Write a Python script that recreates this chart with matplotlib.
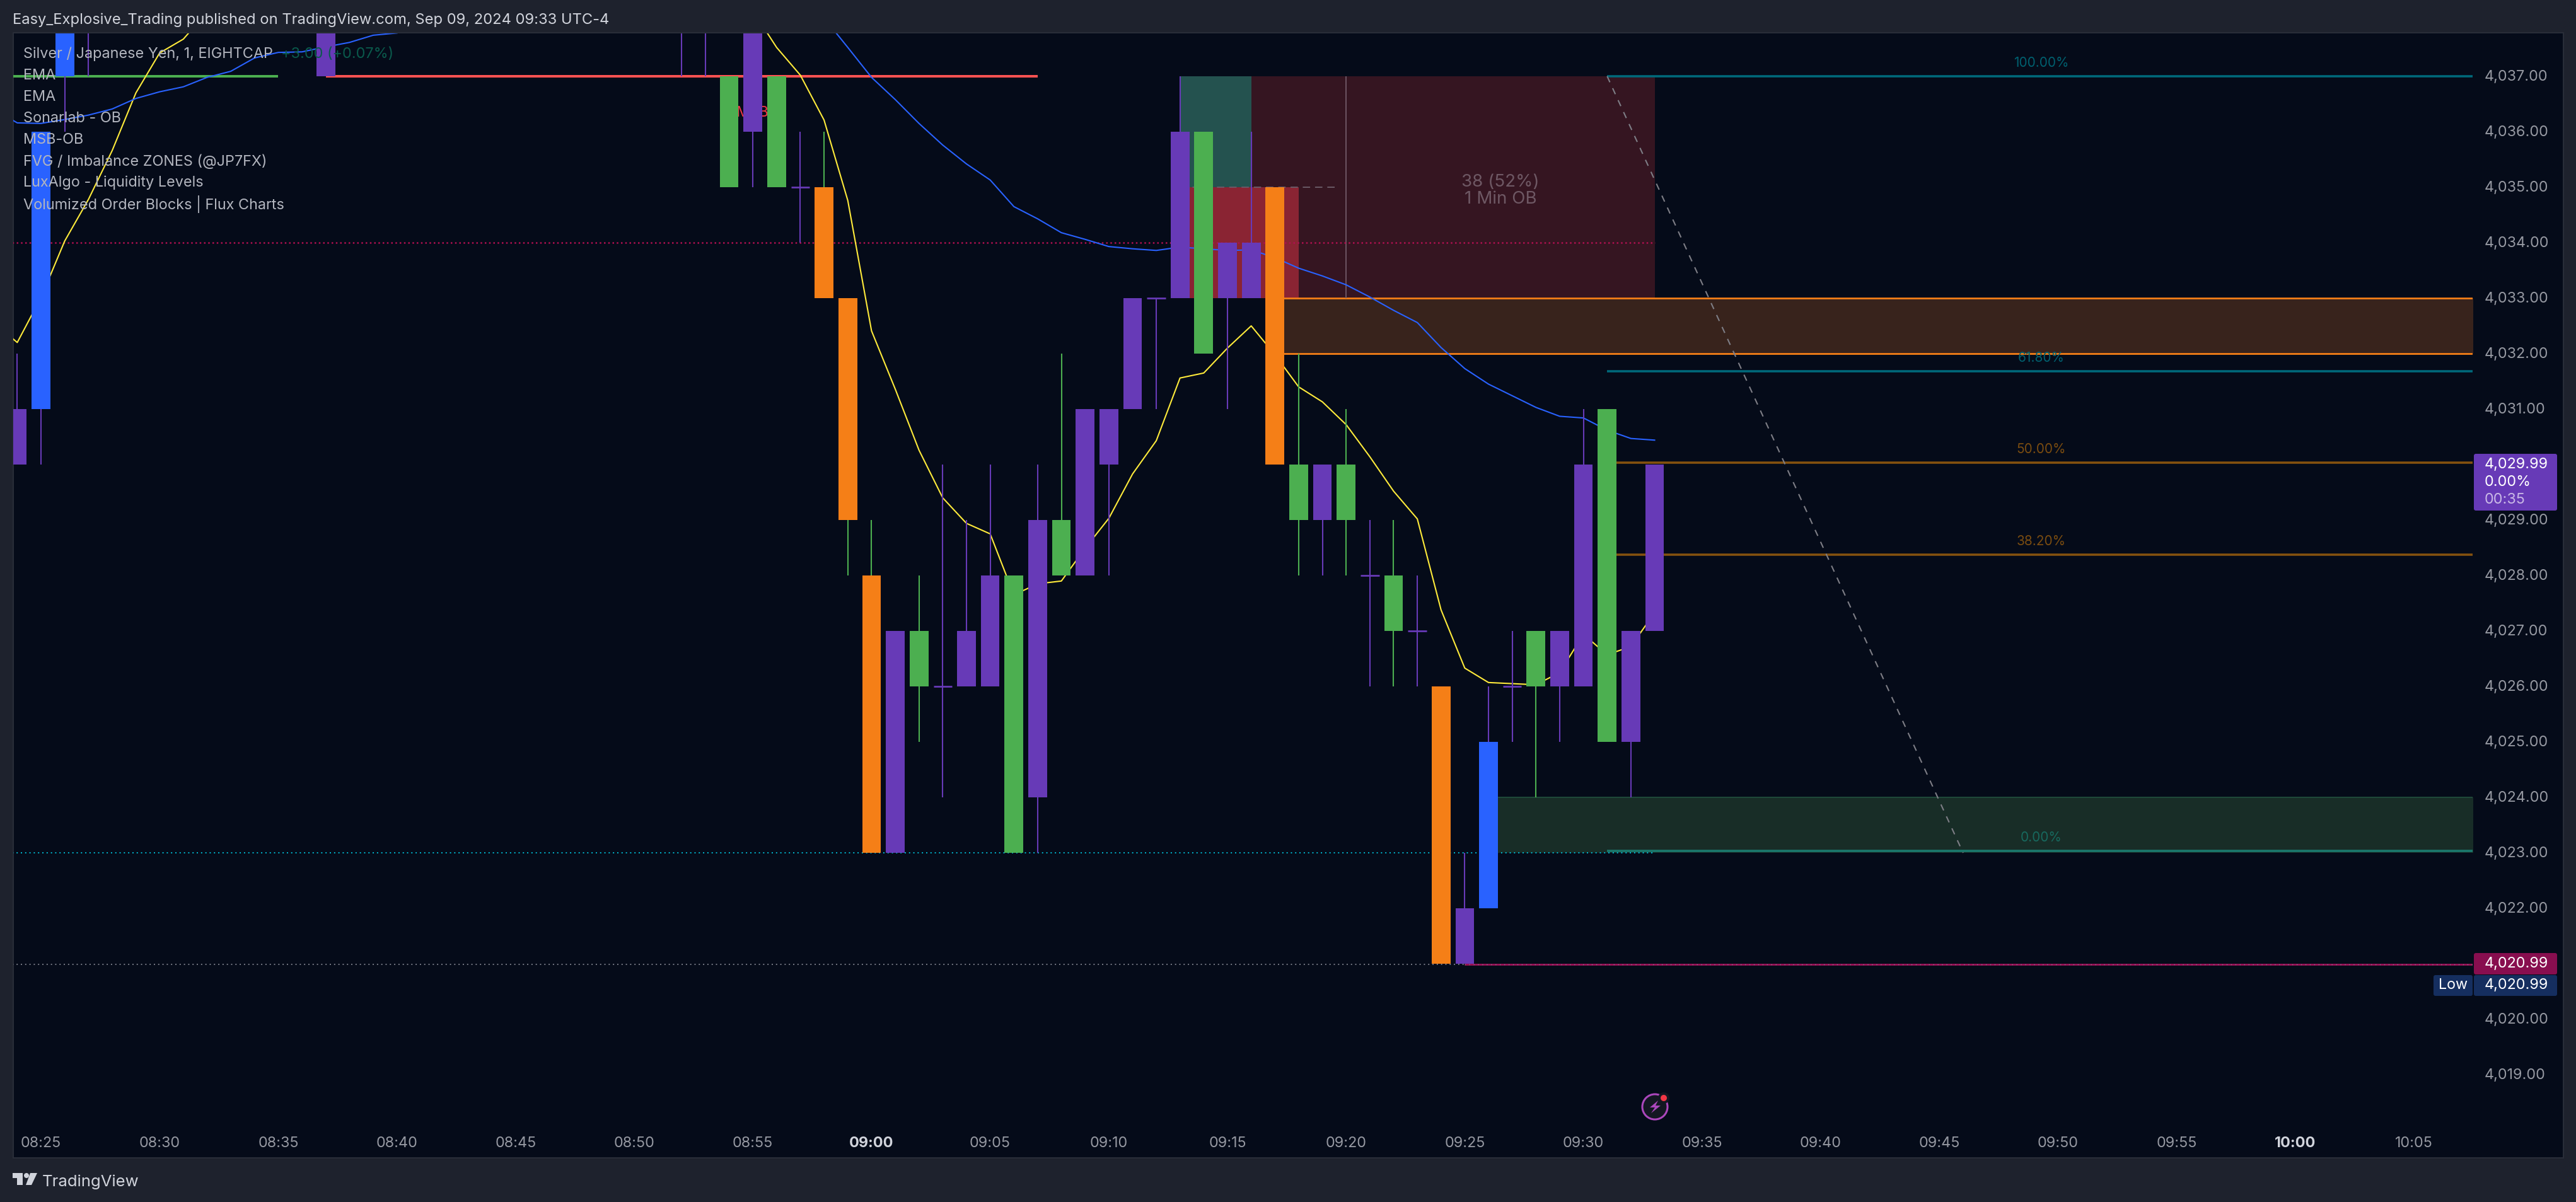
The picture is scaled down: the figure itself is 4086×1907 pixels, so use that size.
"""Silver / JPY 1 minute chart, redrawn from a TradingView snapshot."""

import matplotlib
matplotlib.use("Agg")
import matplotlib.pyplot as plt
from matplotlib.patches import Rectangle, FancyBboxPatch, Circle, Polygon

W, H = 4086, 1908
AX_L, AX_R, AX_T, AX_B = 21, 3922, 54, 1775

FRAME = "#1E222D"
BG = "#050B19"
PURPLE = "#673AB7"
GREEN = "#4CAF50"
ORANGE = "#F57F17"
BLUE = "#2962FF"
CMAP = {"p": PURPLE, "g": GREEN, "o": ORANGE, "b": BLUE}

# minutes counted from 08:25
candle_min = [-1, 0, 1, 2, 12, 27, 28, 29, 30, 31, 32, 33, 34, 35, 36, 37, 38, 39,
              40, 41, 42, 43, 44, 45, 46, 47, 48, 49, 50, 51, 52, 53, 54, 55, 56,
              57, 58, 59, 60, 61, 62, 63, 64, 65, 66, 67, 68]
body_top = [4031, 4036, 4039, 4039, 4039, 4039, 4039, 4037, 4038, 4037, 4035, 4035, 4033, 4028, 4027, 4027, 4026, 4027,
            4028, 4028, 4029, 4029, 4031, 4031, 4033, 4033, 4036, 4036, 4034, 4034, 4035, 4030, 4030, 4030, 4028,
            4028, 4027, 4026, 4022, 4025, 4026, 4027, 4027, 4030, 4031, 4027, 4030]
body_bot = [4030, 4031, 4037, 4039, 4037, 4039, 4039, 4035, 4036, 4035, 4035, 4033, 4029, 4023, 4023, 4026, 4026, 4026,
            4026, 4023, 4024, 4028, 4028, 4030, 4031, 4033, 4033, 4032, 4033, 4033, 4030, 4029, 4029, 4029, 4028,
            4027, 4027, 4021, 4021, 4022, 4026, 4026, 4026, 4026, 4025, 4025, 4027]
wick_hi = [4032, 4036, 4039, 4040, 4039, 4040, 4040, 4037, 4038, 4037, 4036, 4036, 4033, 4029, 4027, 4028, 4030, 4029,
           4030, 4028, 4030, 4032, 4031, 4031, 4033, 4033, 4037, 4036, 4034, 4036, 4035, 4032, 4030, 4031, 4029,
           4029, 4028, 4026, 4023, 4026, 4027, 4027, 4027, 4031, 4031, 4027, 4030]
wick_lo = [4030, 4030, 4036, 4037, 4037, 4037, 4037, 4035, 4035, 4035, 4034, 4033, 4028, 4023, 4023, 4025, 4024, 4026,
           4026, 4023, 4023, 4028, 4028, 4028, 4031, 4031, 4033, 4032, 4031, 4033, 4030, 4028, 4028, 4028, 4026,
           4026, 4026, 4021, 4021, 4022, 4025, 4024, 4025, 4026, 4025, 4024, 4027]
body_col = ["p", "b", "b", "p", "p", "p", "p", "g", "p", "g", "p", "o", "o", "o", "p", "g", "p", "p",
            "p", "g", "p", "g", "p", "p", "p", "p", "p", "g", "p", "p", "o", "g", "p", "g", "p",
            "g", "p", "o", "p", "b", "p", "g", "p", "p", "g", "p", "p"]
wick_col = ["p", "p", "p", "p", "p", "p", "p", "g", "p", "g", "p", "g", "g", "g", "p", "g", "p", "p",
            "p", "g", "p", "g", "p", "p", "p", "p", "p", "g", "p", "p", "o", "g", "p", "g", "p",
            "g", "p", "o", "p", "p", "p", "g", "p", "p", "g", "p", "p"]

ema_fast_a_x = [-2, -1, 0, 1, 2, 3, 4, 5, 6, 7]
ema_fast_a = [4032.57, 4032.2, 4033.01, 4034.03, 4034.78, 4035.66, 4036.7, 4037.42, 4037.67, 4038.16]
ema_fast_b_x = list(range(30, 69))
ema_fast_b = [4038.18, 4037.52, 4037.02, 4036.21, 4034.76, 4032.41, 4031.36, 4030.26, 4029.4, 4028.94,
              4028.75, 4027.65, 4027.85, 4027.9, 4028.49, 4029.03, 4029.83, 4030.43, 4031.56, 4031.65,
              4032.1, 4032.5, 4031.98, 4031.4, 4031.13, 4030.72, 4030.14, 4029.52, 4029.02, 4027.38,
              4026.33, 4026.07, 4026.05, 4026.03, 4026.25, 4026.94, 4026.57, 4026.72, 4027.33]
ema_slow_a_x = list(range(-2, 16))
ema_slow_a = [4036.41, 4036.16, 4036.15, 4036.22, 4036.3, 4036.41, 4036.6, 4036.72, 4036.81, 4036.98,
              4037.09, 4037.33, 4037.43, 4037.44, 4037.53, 4037.61, 4037.74, 4037.78]
ema_slow_b_x = list(range(33, 69))
ema_slow_b = [4038.05, 4037.52, 4036.98, 4036.58, 4036.15, 4035.76, 4035.42, 4035.13, 4034.65, 4034.43,
              4034.18, 4034.06, 4033.93, 4033.89, 4033.86, 4033.92, 4033.89, 4033.86, 4033.87, 4033.73,
              4033.54, 4033.4, 4033.24, 4033.02, 4032.78, 4032.56, 4032.11, 4031.73, 4031.45, 4031.24,
              4031.03, 4030.87, 4030.84, 4030.62, 4030.47, 4030.44]

fib_levels = [4037, 4031.68, 4030.03, 4028.38, 4023.03]
fib_names = ["100.00%", "61.80%", "50.00%", "38.20%", "0.00%"]
fib_colors = ["#00697A", "#00697A", "#85520F", "#85520F", "#1B7A6E"]
fib_text_colors = ["#00606F", "#00606F", "#7A4C10", "#7A4C10", "#17695E"]

price_ticks = [4037, 4036, 4035, 4034, 4033, 4032, 4031, 4029, 4028, 4027, 4026,
               4025, 4024, 4023, 4022, 4020, 4019]
time_ticks = list(range(0, 105, 5))
time_labels = ["08:25", "08:30", "08:35", "08:40", "08:45", "08:50", "08:55", "09:00",
               "09:05", "09:10", "09:15", "09:20", "09:25", "09:30", "09:35", "09:40",
               "09:45", "09:50", "09:55", "10:00", "10:05"]
legend_names = ["EMA", "EMA", "Sonarlab - OB", "MSB-OB", "FVG / Imbalance ZONES (@JP7FX)",
                "LuxAlgo - Liquidity Levels", "Volumized Order Blocks | Flux Charts"]

plt.rcParams["font.family"] = ["Inter", "DejaVu Sans"]

fig = plt.figure(figsize=(W / 100, H / 100), dpi=100, facecolor=FRAME)

# pixel-space layers for the window chrome (below) and the labels (above)
under = fig.add_axes([0, 0, 1, 1], zorder=0)
over = fig.add_axes([0, 0, 1, 1], zorder=2)
for a in (under, over):
    a.set_xlim(0, W)
    a.set_ylim(H, 0)
    a.axis("off")
    a.patch.set_alpha(0)
under.add_patch(Rectangle((20.5, 53), 4045, 1784.5, fc=BG, ec="#2A2E39", lw=1.4))

ax = fig.add_axes([AX_L / W, 1 - AX_B / H, (AX_R - AX_L) / W, (AX_B - AX_T) / H], zorder=1)
ax.patch.set_alpha(0)
px_min, x0 = 37.64, 65
ax.set_xlim((AX_L - x0) / px_min, (AX_R - x0) / px_min)
px_unit, y0 = 88.0, 122
ax.set_ylim(4037 - (AX_B - y0) / px_unit, 4037 + (y0 - AX_T) / px_unit)
for s in ax.spines.values():
    s.set_visible(False)

# zones and order blocks
ax.fill_between([51, 68], 4033, 4037, color="#351521", lw=0, zorder=1)
ax.fill_between([48, 51], 4035, 4037, color="#24524F", lw=0, zorder=1.1)
ax.fill_between([48, 53], 4033, 4035, color="#8A2433", lw=0, zorder=1.1)
ax.fill_between([52, 103], 4032, 4033, color="#38231C", lw=0, zorder=1)
ax.hlines([4032, 4033], 52, 103, color=ORANGE, lw=2.0, zorder=1.2)
ax.fill_between([61, 103], 4023, 4024, color="#182D27", lw=0, zorder=1)
ax.hlines(4024, 61, 103, color="#1F4A3A", lw=1.4, zorder=1.2)
ax.hlines(4035, 48, 54.7, color="#6B5A66", lw=1.4, linestyles=(0, (6, 4)), zorder=1.3)
ax.vlines(55, 4033, 4037, color="#6D5563", lw=1.4, zorder=1.3)

# liquidity levels
ax.hlines(4037, -2, 10, color=GREEN, lw=2.9, zorder=1.5)
ax.hlines(4037, 12, 42, color="#FF5252", lw=2.9, zorder=1.5)
ax.hlines(4034, -2, 68, color="#B01050", lw=1.8, linestyles=(0, (1, 1.7)), zorder=1.4)
ax.hlines(4023, -2, 68, color="#00BCD4", lw=1.4, linestyles=(0, (1, 2.5)), zorder=1.4)
ax.hlines(4020.99, -2, 60, color="#787B86", lw=1.4, linestyles=(0, (1, 2.5)), zorder=1.4)
ax.hlines(4020.99, 60, 103, color="#A01058", lw=2.0, zorder=1.4)
ax.hlines(4020.99, 60, 103, color="#787B86", lw=1.0, linestyles=(0, (1, 4)), zorder=1.45)
ax.text(30, 4036.35, "MSB", color="#F23645", fontsize=17, ha="center", va="center", zorder=1.6)

# fib retracement
for lvl, name, col, tcol in zip(fib_levels, fib_names, fib_colors, fib_text_colors):
    ax.hlines(lvl, 66, 103, color=col, lw=2.6, zorder=1.6)
    ax.text(84.3, lvl + 0.25, name, color=tcol, fontsize=15, ha="center", va="center", zorder=1.6)
ax.plot([66, 81], [4037, 4023], color="#7E7E86", lw=1.5, ls=(0, (5, 5)), zorder=6)

ax.plot(ema_fast_a_x, ema_fast_a, color="#FFEB3B", lw=1.5, zorder=2)
ax.plot(ema_fast_b_x, ema_fast_b, color="#FFEB3B", lw=1.5, zorder=2)
ax.plot(ema_slow_a_x, ema_slow_a, color=BLUE, lw=1.5, zorder=2)
ax.plot(ema_slow_b_x, ema_slow_b, color=BLUE, lw=1.5, zorder=2)

# candles
ax.vlines(candle_min, wick_lo, wick_hi, colors=[CMAP[c] for c in wick_col], lw=1.5, zorder=3)
for m, t, b, c in zip(candle_min, body_top, body_bot, body_col):
    if t == b:
        ax.hlines(t, m - 0.39, m + 0.39, color=CMAP[c], lw=2.0, zorder=3)
    else:
        ax.bar(m, t - b, bottom=b, width=0.79, color=CMAP[c], lw=0, zorder=3)

ax.text(61.5, 4034.95, "38 (52%)\n1 Min OB", color="#6E5864", fontsize=20, ha="center",
        va="center", linespacing=1.03, zorder=7)

ax.yaxis.tick_right()
ax.set_yticks(price_ticks)
ax.set_yticklabels([f"{p:,.2f}" for p in price_ticks])
ax.set_xticks(time_ticks)
ax.set_xticklabels(time_labels)
ax.tick_params(axis="both", length=0, colors="#9598A1", labelsize=16.8)
ax.tick_params(axis="y", pad=13.5)
ax.tick_params(axis="x", pad=20)
for t in ax.get_yticklabels():
    t.set_verticalalignment("center")
for t in ax.get_xticklabels():
    if t.get_text() in ("09:00", "10:00"):
        t.set_fontweight("bold")
        t.set_color("#D1D4DC")


def tag(x0_, y0_, x1_, y1_, color):
    over.add_patch(FancyBboxPatch((x0_ + 2, y0_ + 2), x1_ - x0_ - 4, y1_ - y0_ - 4,
                                  boxstyle="round,pad=2,rounding_size=3", fc=color, ec="none"))


tag(3924, 721, 4056, 811, PURPLE)
over.text(3941, 737, "4,029.99", color="white", fontsize=16.8, va="center")
over.text(3941, 765, "0.00%", color="white", fontsize=16.8, va="center")
over.text(3941, 793, "00:35", color="#C9B8E6", fontsize=16.8, va="center")
tag(3924, 1513, 4056, 1547, "#880E4F")
over.text(3941, 1529, "4,020.99", color="white", fontsize=16.8, va="center")
tag(3924, 1548, 4056, 1581, "#152E5F")
over.text(3941, 1563, "4,020.99", color="white", fontsize=16.8, va="center")
tag(3860, 1548, 3922, 1581, "#152E5F")
over.text(3891, 1563, "Low", color="white", fontsize=16.8, ha="center", va="center")

# bolt icon under the last bar
over.add_patch(Circle((2625, 1757), 20, fc="#131722", ec="#AB47BC", lw=2.2))
over.add_patch(Circle((2639, 1743), 9, fc="#131722", ec="none"))
over.add_patch(Circle((2639, 1743), 5, fc="#F23645", ec="none"))
over.add_patch(Polygon([[2630, 1747], [2617, 1758], [2625, 1758], [2619, 1767],
                        [2634, 1755], [2626, 1755]], fc="#AB47BC", ec="none"))

# header, footer, legend
over.text(20, 32, "Easy_Explosive_Trading published on TradingView.com, Sep 09, 2024 09:33 UTC-4",
          color="#D1D4DC", fontsize=17.1, va="center")
over.text(67, 1875, "TradingView", color="#D1D4DC", fontsize=18.5, va="center")
over.add_patch(Rectangle((20, 1862), 16, 8, fc="#D1D4DC", ec="none"))
over.add_patch(Rectangle((27, 1862), 9, 19, fc="#D1D4DC", ec="none"))
over.add_patch(Circle((42, 1866), 4, fc="#D1D4DC", ec="none"))
over.add_patch(Polygon([[48, 1862], [59, 1862], [50, 1881], [41, 1881]], fc="#D1D4DC", ec="none"))

over.text(37, 86, "Silver / Japanese Yen, 1, EIGHTCAP", color="#B2B5BE", fontsize=16.9, va="center")
over.text(446, 86, "+3.00 (+0.07%)", color="#0A5A4C", fontsize=16.9, va="center")
for k, name in enumerate(legend_names):
    over.text(37, 120 + k * 34, name, color="#B2B5BE", fontsize=16.9, va="center")

fig.savefig("out.png", dpi=100, facecolor=FRAME)
